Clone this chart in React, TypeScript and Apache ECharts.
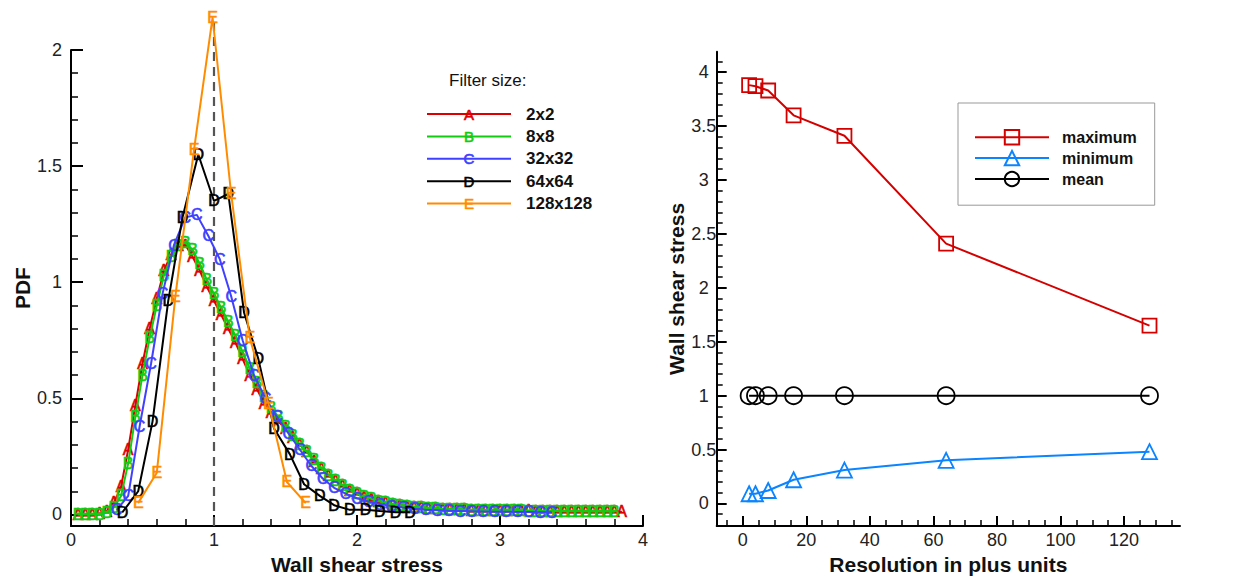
import React, { useEffect, useRef } from "react";
import * as echarts from "echarts";

const FONT = "'Liberation Sans', Arial, Helvetica, sans-serif";

// ---------- Left chart: PDF of wall shear stress ----------
const gridABx = [
  0.05, 0.1, 0.15, 0.2, 0.25, 0.3, 0.35, 0.4, 0.45, 0.5,
  0.55, 0.6, 0.65, 0.7, 0.75, 0.8, 0.85, 0.9, 0.95, 1.0,
  1.05, 1.1, 1.15, 1.2, 1.25, 1.3, 1.35, 1.4, 1.45, 1.5,
  1.55, 1.6, 1.65, 1.7, 1.75, 1.8, 1.85, 1.9, 1.95, 2.0,
  2.05, 2.1, 2.15, 2.2, 2.25, 2.3, 2.35, 2.4, 2.45, 2.5,
  2.55, 2.6, 2.65, 2.7, 2.75, 2.8, 2.85, 2.9, 2.95, 3.0,
  3.05, 3.1, 3.15, 3.2, 3.25, 3.3, 3.35, 3.4, 3.45, 3.5,
  3.55, 3.6, 3.65, 3.7, 3.75, 3.8, 3.85,
];
const pdf2x2 = [
  0.0, 0.0, 0.0, 0.005, 0.015, 0.05, 0.12, 0.28, 0.47, 0.65,
  0.8, 0.93, 1.05, 1.12, 1.16, 1.16, 1.11, 1.05, 0.98, 0.92,
  0.86, 0.8, 0.74, 0.67, 0.6, 0.54, 0.48, 0.44, 0.4, 0.37,
  0.33, 0.3, 0.27, 0.23, 0.2, 0.17, 0.145, 0.125, 0.105, 0.09,
  0.075, 0.065, 0.055, 0.05, 0.045, 0.04, 0.035, 0.03, 0.03, 0.025,
  0.025, 0.022, 0.021, 0.02, 0.02, 0.019, 0.019, 0.018, 0.018, 0.017,
  0.017, 0.016, 0.016, 0.016, 0.015, 0.015, 0.015, 0.015, 0.014, 0.014,
  0.014, 0.014, 0.013, 0.013, 0.013, 0.013, 0.012,
];
const pdf8x8 = [
  0.0, 0.0, 0.0, 0.0, 0.01, 0.03, 0.08, 0.22, 0.42, 0.6,
  0.76, 0.9, 1.03, 1.11, 1.16, 1.17, 1.14, 1.08, 1.01, 0.95,
  0.89, 0.83, 0.77, 0.7, 0.63, 0.57, 0.51, 0.46, 0.42, 0.38,
  0.34, 0.3, 0.27, 0.235, 0.2, 0.17, 0.145, 0.125, 0.105, 0.09,
  0.078, 0.067, 0.058, 0.05, 0.045, 0.04, 0.035, 0.032, 0.03, 0.027,
  0.025, 0.023, 0.022, 0.02, 0.02, 0.019, 0.018, 0.018, 0.017, 0.017,
  0.016, 0.016, 0.016, 0.015, 0.015, 0.015, 0.015, 0.014, 0.014, 0.014,
  0.014, 0.013, 0.013, 0.013, 0.013, 0.012,
];
const x32 = [
  0.32, 0.4, 0.48, 0.56, 0.64, 0.72, 0.8, 0.88, 0.96, 1.04,
  1.12, 1.2, 1.28, 1.36, 1.44, 1.52, 1.6, 1.68, 1.76, 1.84,
  1.92, 2.0, 2.08, 2.16, 2.24, 2.32, 2.4, 2.48, 2.56, 2.64,
  2.72, 2.8, 2.88, 2.96, 3.04, 3.12, 3.2, 3.28, 3.36,
];
const pdf32x32 = [
  0.02, 0.08, 0.38, 0.65, 0.95, 1.16, 1.28, 1.29, 1.2, 1.1,
  0.94, 0.75, 0.6, 0.5, 0.42, 0.35, 0.28, 0.21, 0.155, 0.115,
  0.09, 0.07, 0.056, 0.045, 0.036, 0.03, 0.025, 0.02, 0.018, 0.016,
  0.015, 0.014, 0.013, 0.012, 0.012, 0.011, 0.011, 0.01, 0.01,
];
const x64 = [
  0.36, 0.47, 0.57, 0.68, 0.78, 0.89, 1.0, 1.1, 1.21, 1.31,
  1.42, 1.53, 1.63, 1.74, 1.84, 1.95, 2.06, 2.16, 2.27, 2.37,
];
const pdf64x64 = [
  0.01, 0.1, 0.4, 0.92, 1.28, 1.55, 1.35, 1.38, 0.87, 0.67,
  0.37, 0.26, 0.13, 0.08, 0.04, 0.02, 0.02, 0.015, 0.01, 0.01,
];
const x128 = [0.47, 0.6, 0.73, 0.86, 0.99, 1.12, 1.25, 1.38, 1.51, 1.64];
const pdf128x128 = [0.05, 0.18, 0.94, 1.57, 2.14, 1.38, 0.76, 0.48, 0.14, 0.05];

const filterSizes = ["2x2", "8x8", "32x32", "64x64", "128x128"];
const filterLetters = ["A", "B", "C", "D", "E"];
const filterColors = ["#dd0000", "#11cc11", "#4040ff", "#000000", "#ff8c00"];

const pdfYMajor = [0, 0.5, 1, 1.5, 2];
const pdfYMinor = [0.1, 0.2, 0.3, 0.4, 0.6, 0.7, 0.8, 0.9, 1.1, 1.2, 1.3, 1.4, 1.6, 1.7, 1.8, 1.9];
const meanLine = [
  [1, -0.05],
  [1, 2.13],
];

// ---------- Right chart: wall shear stress vs resolution ----------
const resolution = [2, 4, 8, 16, 32, 64, 128];
const wssMax = [3.88, 3.87, 3.83, 3.6, 3.41, 2.41, 1.65];
const wssMin = [0.09, 0.09, 0.12, 0.22, 0.31, 0.4, 0.48];
const wssMean = [1, 1, 1, 1, 1, 1, 1];
const resXMajor = [0, 20, 40, 60, 80, 100, 120];
const resXMinor = [-5, 5, 10, 15, 25, 30, 35, 45, 50, 55, 65, 70, 75, 85, 90, 95, 105, 110, 115, 125, 130, 135];
const resYMajor = [0, 0.5, 1, 1.5, 2, 2.5, 3, 3.5, 4];
const resYMinor = [
  -0.1, 0.1, 0.2, 0.3, 0.4, 0.6, 0.7, 0.8, 0.9, 1.1, 1.2, 1.3, 1.4, 1.6, 1.7, 1.8, 1.9,
  2.1, 2.2, 2.3, 2.4, 2.6, 2.7, 2.8, 2.9, 3.1, 3.2, 3.3, 3.4, 3.6, 3.7, 3.8, 3.9, 4.1,
];

const RED = "#d40000";
const BLUE = "#0a84ff";
const BLACK = "#000000";

const pairs = (xs: number[], ys: number[]) => ys.map((y, i) => [xs[i], y]);

const axisLineStyle = { show: true, onZero: false, lineStyle: { color: "#000", width: 2 } };
const labelStyle = { fontSize: 18, color: "#222", fontFamily: FONT };
const nameStyle = { fontSize: 21, fontWeight: "bold" as const, color: "#111", fontFamily: FONT };

function buildOption() {
  const pdfSeriesData = [
    pairs(gridABx, pdf2x2),
    pairs(gridABx, pdf8x8),
    pairs(x32, pdf32x32),
    pairs(x64, pdf64x64),
    pairs(x128, pdf128x128),
  ];

  const pdfSeries = pdfSeriesData.map((data, i) => ({
    type: "line",
    name: filterSizes[i],
    xAxisIndex: 0,
    yAxisIndex: 0,
    data,
    clip: false,
    symbol: "circle",
    symbolSize: 1,
    itemStyle: { color: filterColors[i] },
    lineStyle: { color: filterColors[i], width: 2 },
    label: {
      show: true,
      position: "inside",
      formatter: filterLetters[i],
      color: filterColors[i],
      fontSize: 16,
      fontFamily: FONT,
      textBorderWidth: 0.6,
      textBorderColor: filterColors[i],
    },
    z: 3 + i,
  }));

  const legendRows = filterSizes.map((name, i) => {
    const y = 114 + i * 22.4;
    return {
      type: "group",
      children: [
        {
          type: "line",
          shape: { x1: 427, y1: y, x2: 511, y2: y },
          style: { stroke: filterColors[i], lineWidth: 2 },
        },
        {
          type: "text",
          x: 469,
          y,
          style: {
            text: filterLetters[i],
            fill: filterColors[i],
            stroke: filterColors[i],
            lineWidth: 0.6,
            font: `15px ${FONT}`,
            textAlign: "center",
            textVerticalAlign: "middle",
          },
        },
        {
          type: "text",
          x: 526,
          y,
          style: {
            text: name,
            fill: "#111",
            font: `bold 17px ${FONT}`,
            textAlign: "left",
            textVerticalAlign: "middle",
          },
        },
      ],
    };
  });

  return {
    animation: false,
    backgroundColor: "#fff",
    textStyle: { fontFamily: FONT },
    grid: [
      { left: 71, top: 50, width: 572, height: 478 },
      { left: 716.7, top: 51.7, width: 463.3, height: 476.6 },
    ],
    xAxis: [
      {
        gridIndex: 0,
        type: "value",
        min: 0,
        max: 4,
        interval: 1,
        position: "bottom",
        axisLine: axisLineStyle,
        axisTick: { show: true, inside: true, length: 11, lineStyle: { color: "#000", width: 2 } },
        minorTick: { show: true, splitNumber: 5, length: 7, lineStyle: { color: "#000", width: 1.5 } },
        splitLine: { show: false },
        axisLabel: { ...labelStyle, margin: 5 },
        name: "Wall shear stress",
        nameLocation: "middle",
        nameGap: 21,
        nameTextStyle: nameStyle,
      },
      {
        gridIndex: 1,
        type: "value",
        min: -8.2,
        max: 137.6,
        position: "bottom",
        axisLine: axisLineStyle,
        axisTick: {
          show: true,
          inside: true,
          length: 10,
          customValues: resXMajor,
          lineStyle: { color: "#000", width: 2 },
        },
        splitLine: { show: false },
        axisLabel: { ...labelStyle, margin: 5, customValues: resXMajor },
        name: "Resolution in plus units",
        nameLocation: "middle",
        nameGap: 22,
        nameTextStyle: nameStyle,
      },
      {
        gridIndex: 1,
        type: "value",
        min: -8.2,
        max: 137.6,
        position: "bottom",
        offset: 0,
        axisLine: { show: false, onZero: false },
        axisTick: {
          show: true,
          inside: true,
          length: 6,
          customValues: resXMinor,
          lineStyle: { color: "#000", width: 1.5 },
        },
        axisLabel: { show: false },
        splitLine: { show: false },
      },
    ],
    yAxis: [
      {
        gridIndex: 0,
        type: "value",
        min: -0.05,
        max: 2,
        position: "left",
        axisLine: axisLineStyle,
        axisTick: {
          show: true,
          inside: true,
          length: 12,
          customValues: pdfYMajor,
          lineStyle: { color: "#000", width: 2 },
        },
        splitLine: { show: false },
        axisLabel: { ...labelStyle, margin: 9, customValues: pdfYMajor },
        name: "PDF",
        nameLocation: "middle",
        nameRotate: 90,
        nameGap: 38,
        nameTextStyle: nameStyle,
      },
      {
        gridIndex: 0,
        type: "value",
        min: -0.05,
        max: 2,
        position: "left",
        offset: 0,
        axisLine: { show: false, onZero: false },
        axisTick: {
          show: true,
          inside: true,
          length: 7,
          customValues: pdfYMinor,
          lineStyle: { color: "#000", width: 1.5 },
        },
        axisLabel: { show: false },
        splitLine: { show: false },
      },
      {
        gridIndex: 1,
        type: "value",
        min: -0.21,
        max: 4.19,
        position: "left",
        axisLine: axisLineStyle,
        axisTick: {
          show: true,
          inside: true,
          length: 10,
          customValues: resYMajor,
          lineStyle: { color: "#000", width: 2 },
        },
        splitLine: { show: false },
        axisLabel: { ...labelStyle, margin: 13, align: "center", customValues: resYMajor },
        name: "Wall shear stress",
        nameLocation: "middle",
        nameRotate: 90,
        nameGap: 29,
        nameTextStyle: nameStyle,
      },
      {
        gridIndex: 1,
        type: "value",
        min: -0.21,
        max: 4.19,
        position: "left",
        offset: 0,
        axisLine: { show: false, onZero: false },
        axisTick: {
          show: true,
          inside: true,
          length: 6,
          customValues: resYMinor,
          lineStyle: { color: "#000", width: 1.5 },
        },
        axisLabel: { show: false },
        splitLine: { show: false },
      },
    ],
    legend: {
      data: ["maximum", "minimum", "mean"],
      orient: "vertical",
      left: 958,
      top: 103,
      itemWidth: 74,
      itemHeight: 18,
      itemGap: 4.5,
      padding: [26, 18, 18, 16],
      borderColor: "#999",
      borderWidth: 1,
      borderRadius: 0,
      selectedMode: false,
      textStyle: { fontSize: 16, fontWeight: "bold", color: "#111", fontFamily: FONT, padding: [0, 0, 0, 8] },
    },
    graphic: [
      {
        type: "text",
        x: 449,
        y: 80,
        style: {
          text: "Filter size:",
          fill: "#111",
          font: `17px ${FONT}`,
          textAlign: "left",
          textVerticalAlign: "middle",
        },
      },
      ...legendRows,
    ],
    series: [
      {
        type: "line",
        name: "ref",
        xAxisIndex: 0,
        yAxisIndex: 0,
        data: meanLine,
        clip: false,
        symbol: "none",
        silent: true,
        lineStyle: { color: "#555", width: 2.2, type: [9, 6] },
        z: 2,
      },
      ...pdfSeries,
      {
        type: "line",
        name: "maximum",
        xAxisIndex: 1,
        yAxisIndex: 2,
        data: pairs(resolution, wssMax),
        symbol: "rect",
        symbolSize: 14,
        lineStyle: { color: RED, width: 2 },
        itemStyle: { color: "rgba(255,255,255,0)", borderColor: RED, borderWidth: 1.8 },
      },
      {
        type: "line",
        name: "minimum",
        xAxisIndex: 1,
        yAxisIndex: 2,
        data: pairs(resolution, wssMin),
        symbol: "triangle",
        symbolSize: 15,
        lineStyle: { color: BLUE, width: 2 },
        itemStyle: { color: "rgba(255,255,255,0)", borderColor: BLUE, borderWidth: 1.8 },
      },
      {
        type: "line",
        name: "mean",
        xAxisIndex: 1,
        yAxisIndex: 2,
        data: pairs(resolution, wssMean),
        symbol: "circle",
        symbolSize: 17,
        lineStyle: { color: BLACK, width: 2 },
        itemStyle: { color: "rgba(255,255,255,0)", borderColor: BLACK, borderWidth: 1.8 },
      },
    ],
  };
}

export default function App() {
  const ref = useRef<HTMLDivElement>(null);
  useEffect(() => {
    document.body.style.margin = "0";
    const chart = echarts.init(ref.current!, undefined, { renderer: "svg" });
    chart.setOption(buildOption() as any);
    return () => chart.dispose();
  }, []);
  return <div ref={ref} style={{ width: 1250, height: 580 }} />;
}
